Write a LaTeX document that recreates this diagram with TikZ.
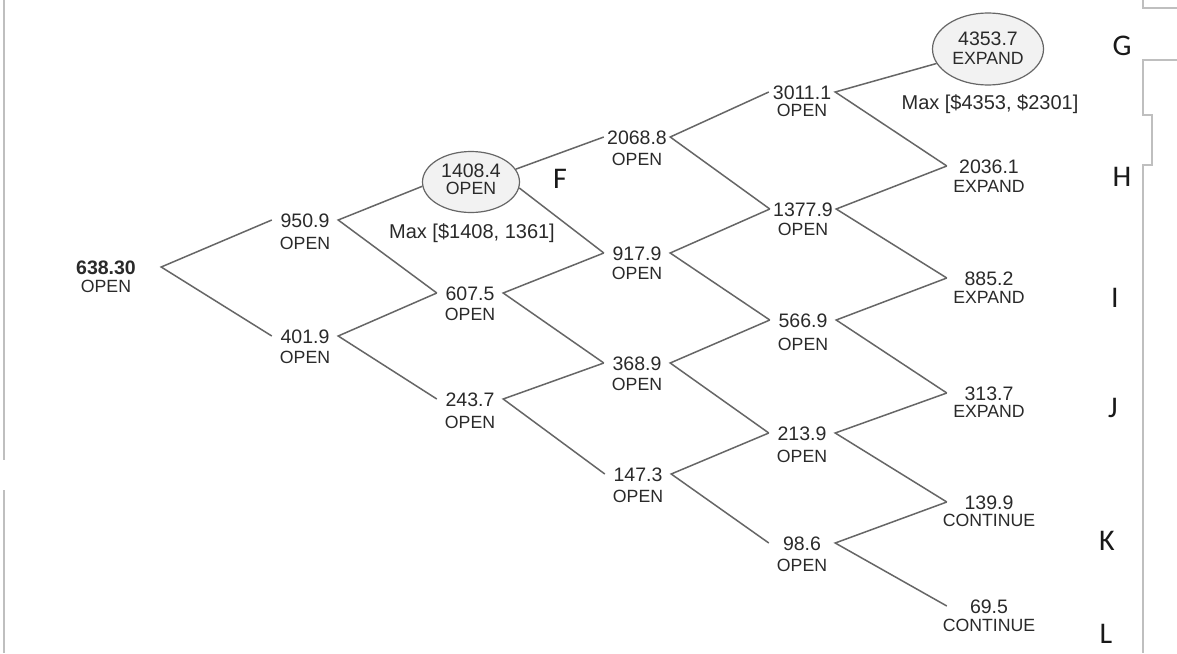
\documentclass[tikz,border=0pt]{standalone}
\usepackage{fontspec}
\setmainfont{Liberation Sans}
\newfontfamily\letterfont{Carlito}
\usetikzlibrary{shapes.geometric}
\definecolor{txt}{HTML}{2A2A2A}
\definecolor{lin}{HTML}{666666}
\definecolor{ovalfill}{HTML}{F2F2F2}
\newcommand{\numfnt}{\fontsize{19.5}{20}\selectfont}
\newcommand{\labfnt}{\fontsize{17.7}{18}\selectfont}
\begin{document}
\begin{tikzpicture}[x=1pt,y=-1pt,
  num/.style={font=\numfnt, text=txt, inner sep=0pt, minimum width=66pt, text height=14pt, text depth=0pt},
  num5/.style={num, minimum width=84pt},
  lab/.style={font=\labfnt, text=txt, inner sep=0pt},
  oval/.style={draw=lin, fill=ovalfill, ellipse, line width=1.2pt, inner sep=0pt},
  edge/.style={draw=lin, line width=1.5pt},
  letter/.style={font=\letterfont\fontsize{30}{30}\selectfont, text=black!90, inner sep=0pt},
  maxlab/.style={font=\fontsize{20}{20}\selectfont, text=txt, inner sep=0pt},
  frame/.style={draw=black!25, line width=1.2pt}]
\useasboundingbox[fill=white] (0,0) rectangle (1177,653);

% scan frame lines
\draw[frame] (4,0) -- (4,460);
\draw[frame] (4,490) -- (4,653);
\draw[frame] (1143,0) -- (1143,8) -- (1177,8);
\draw[frame] (1177,60) -- (1143,60) -- (1143,115) -- (1152,115) -- (1152,165) -- (1143,165) -- (1143,653);

% column 0
\node[num, minimum width=110pt, font=\numfnt\bfseries] (n0) at (106,267) {638.30};
\node[lab] (l0) at (106,286) {OPEN};
% column 1
\node[num] (n1a) at (305,220) {950.9};
\node[lab] (l1a) at (305,243) {OPEN};
\node[num] (n1b) at (305,336) {401.9};
\node[lab] (l1b) at (305,357) {OPEN};
% column 2
\node[oval, minimum width=97pt, minimum height=61pt] (e2a) at (471,182) {};
\node[font=\numfnt, text=txt, inner sep=0pt] (t2a) at (471,171) {1408.4};
\node[lab] (l2a) at (471,188) {OPEN};
\node[maxlab] (m2a) at (472,233) {Max [\$1408, 1361]};
\node[num] (n2b) at (470,293) {607.5};
\node[lab] (l2b) at (470,314) {OPEN};
\node[num] (n2c) at (470,399) {243.7};
\node[lab] (l2c) at (470,422) {OPEN};
% column 3
\node[num] (n3a) at (637,137) {2068.8};
\node[lab] (l3a) at (637,159) {OPEN};
\node[num] (n3b) at (637,253) {917.9};
\node[lab] (l3b) at (637,273) {OPEN};
\node[num] (n3c) at (637,363) {368.9};
\node[lab] (l3c) at (637,384) {OPEN};
\node[num] (n3d) at (638,474) {147.3};
\node[lab] (l3d) at (638,496) {OPEN};
% column 4
\node[num] (n4a) at (802,92) {3011.1};
\node[lab] (l4a) at (802,110) {OPEN};
\node[num] (n4b) at (803,209) {1377.9};
\node[lab] (l4b) at (803,229) {OPEN};
\node[num] (n4c) at (803,320) {566.9};
\node[lab] (l4c) at (803,344) {OPEN};
\node[num] (n4d) at (802,433) {213.9};
\node[lab] (l4d) at (802,456) {OPEN};
\node[num] (n4e) at (802,543) {98.6};
\node[lab] (l4e) at (802,565) {OPEN};
% column 5
\node[oval, minimum width=111pt, minimum height=72pt] (e5a) at (988,49) {};
\node[font=\numfnt, text=txt, inner sep=0pt] (t5a) at (988,39) {4353.7};
\node[lab] (l5a) at (988,58) {EXPAND};
\node[maxlab] (m5a) at (990,104) {Max [\$4353, \$2301]};
\node[num5] (n5b) at (989,166) {2036.1};
\node[lab] (l5b) at (989,186) {EXPAND};
\node[num5] (n5c) at (989,278) {885.2};
\node[lab] (l5c) at (989,297) {EXPAND};
\node[num5] (n5d) at (989,393) {313.7};
\node[lab] (l5d) at (989,411) {EXPAND};
\node[num5] (n5e) at (989,502) {139.9};
\node[lab] (l5e) at (989,520) {CONTINUE};
\node[num5] (n5f) at (989,606) {69.5};
\node[lab] (l5f) at (989,625) {CONTINUE};

% side letters
\node[letter] (F) at (560,179) {F};
\node[letter] (G) at (1122,46) {G};
\node[letter] (H) at (1122,177) {H};
\node[letter] (I) at (1115,298) {I};
\node[letter] (J) at (1113,408) {J};
\node[letter] (K) at (1107,541) {K};
\node[letter] (L) at (1106,634) {L};

% connectors
\draw[edge] (n1a.west) -- (n0.east) -- (n1b.west);
\draw[edge] (e2a.185) -- (n1a.east) -- (n2b.west);
\draw[edge] (n2b.west) -- (n1b.east) -- (n2c.west);
\draw[edge] (n3a.west) -- (e2a.16);
\draw[edge] (n3b.west) -- (e2a.-7);
\draw[edge] (n3b.west) -- (n2b.east) -- (n3c.west);
\draw[edge] (n3c.west) -- (n2c.east) -- (n3d.west);
\draw[edge] (n4a.west) -- (n3a.east) -- (n4b.west);
\draw[edge] (n4b.west) -- (n3b.east) -- (n4c.west);
\draw[edge] (n4c.west) -- (n3c.east) -- (n4d.west);
\draw[edge] (n4d.west) -- (n3d.east) -- (n4e.west);
\draw[edge] (e5a) -- (n4a.east) -- (n5b.west);
\draw[edge] (n5b.west) -- (n4b.east) -- (n5c.west);
\draw[edge] (n5c.west) -- (n4c.east) -- (n5d.west);
\draw[edge] (n5d.west) -- (n4d.east) -- (n5e.west);
\draw[edge] (n5e.west) -- (n4e.east) -- (n5f.west);
\end{tikzpicture}
\end{document}
